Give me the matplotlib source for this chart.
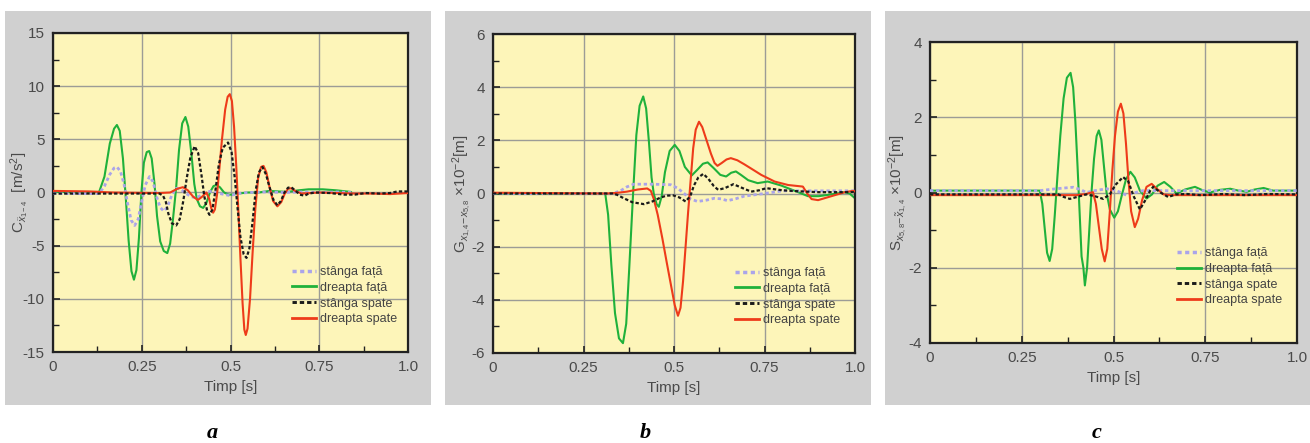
import matplotlib
matplotlib.use("Agg")
import matplotlib.pyplot as plt
from matplotlib.patches import Rectangle
from matplotlib.lines import Line2D

plt.rcParams['font.family'] = ['Liberation Sans', 'DejaVu Sans']
plt.rcParams['mathtext.fontset'] = 'custom'
plt.rcParams['mathtext.rm'] = 'Liberation Sans'
plt.rcParams['mathtext.it'] = 'Liberation Sans:italic'
plt.rcParams['mathtext.bf'] = 'Liberation Sans:bold'

# ---------------- data: (a) acceleration C [m/s^2] ----------------
a_sf_t = [0, 0.13, 0.145, 0.16, 0.172, 0.18, 0.19, 0.2, 0.21, 0.22, 0.23, 0.24, 0.25, 0.26,
          0.272, 0.282, 0.292, 0.302, 0.312, 0.322, 0.335, 0.347, 0.36, 0.375, 0.39, 0.404,
          0.42, 0.435, 0.45, 0.47, 0.5, 0.52, 0.55, 0.6, 0.65, 0.7, 0.75, 0.8, 0.84]
a_sf_v = [-0.1, -0.1, 0.6, 1.7, 2.3, 2.4, 2.0, 0.8, -1.0, -2.6, -3.1, -2.5, -0.8, 0.7,
          1.5, 1.0, -0.4, -1.4, -1.75, -1.4, -0.2, 0.4, 0.3, -0.1, -0.4, -0.5,
          -0.2, 0.1, 0.1, -0.1, -0.3, -0.1, 0.0, 0.05, 0.0, 0.05, 0.0, 0.05, 0.0]

a_df_t = [0.0, 0.13, 0.145, 0.16, 0.172, 0.18, 0.188, 0.197, 0.205, 0.213, 0.221, 0.228, 0.235,
          0.242, 0.249, 0.256, 0.264, 0.271, 0.278, 0.286, 0.293, 0.302, 0.312, 0.322, 0.330,
          0.338, 0.347, 0.355, 0.364, 0.373, 0.381, 0.390, 0.398, 0.405, 0.414, 0.423, 0.432,
          0.442, 0.452, 0.46, 0.47, 0.482, 0.495, 0.505, 0.52, 0.55, 0.58, 0.61, 0.635, 0.66,
          0.69, 0.72, 0.76, 0.80, 0.84]
a_df_v = [0.05, 0.05, 1.5, 4.6, 6.0, 6.35, 5.8, 3.2, -0.5, -4.5, -7.4, -8.2, -7.3,
          -4.3, 0.0, 2.8, 3.8, 3.9, 3.2, 0.8, -2.2, -4.6, -5.5, -5.7, -4.8,
          -2.5, 0.5, 4.0, 6.5, 7.1, 6.2, 3.6, 0.8, -0.6, -1.3, -1.45, -1.0,
          0.0, 0.6, 0.7, 0.5, 0.0, -0.2, -0.2, -0.1, 0.0, 0.0, 0.15, 0.1, 0.05,
          0.2, 0.3, 0.3, 0.2, 0.05]

a_ss_t = [0, 0.3, 0.31, 0.318, 0.325, 0.335, 0.347, 0.357, 0.367, 0.377, 0.387, 0.399, 0.409,
          0.418, 0.426, 0.434, 0.441, 0.449, 0.458, 0.467, 0.478, 0.493, 0.503, 0.512, 0.52,
          0.528, 0.537, 0.545, 0.553, 0.562, 0.571, 0.58, 0.59, 0.6, 0.61, 0.621, 0.632,
          0.642, 0.652, 0.662, 0.671, 0.682, 0.695, 0.709, 0.72, 0.74, 0.78, 0.82, 0.85,
          0.88, 0.92, 0.95, 0.97, 1.0]
a_ss_v = [-0.1, -0.1, -0.3, -0.9, -2.0, -2.9, -3.1, -2.5, -0.8, 1.4, 3.3, 4.35, 3.7,
          1.7, -0.3, -1.7, -2.1, -1.6, 0.3, 2.6, 4.2, 4.7, 3.8, 1.4, -1.5,
          -4.2, -5.8, -6.15, -5.3, -2.8, 0.2, 1.9, 2.4, 1.7, 0.5, -0.7, -1.2,
          -0.8, 0.0, 0.45, 0.5, 0.2, -0.2, -0.3, -0.1, 0.0, -0.05, -0.2, -0.2,
          -0.05, -0.1, -0.05, 0.1, 0.1]

a_ds_t = [0, 0.1, 0.17, 0.3, 0.33, 0.35, 0.366, 0.38, 0.395, 0.408, 0.42, 0.432, 0.44, 0.446,
          0.451, 0.456, 0.462, 0.468, 0.476, 0.485, 0.492, 0.498, 0.504, 0.51, 0.516, 0.522,
          0.528, 0.534, 0.539, 0.543, 0.548, 0.555, 0.562, 0.57, 0.578, 0.586, 0.593, 0.601,
          0.61, 0.62, 0.632, 0.643, 0.653, 0.662, 0.671, 0.682, 0.7, 0.75, 0.8, 0.85, 0.9,
          0.95, 1.0]
a_ds_v = [0.15, 0.1, 0.0, -0.05, 0.0, 0.35, 0.5, 0.2, -0.4, -0.7, -0.4, 0.0, -0.6, -1.5,
          -1.9, -1.6, -0.2, 2.0, 5.0, 7.8, 9.0, 9.25, 8.6, 6.2, 2.6, -1.6,
          -6.2, -10.4, -12.9, -13.4, -12.8, -10.0, -5.8, -1.5, 1.4, 2.4, 2.5, 1.9,
          0.5, -0.8, -1.3, -0.9, -0.1, 0.35, 0.4, 0.15, -0.1, 0.0, -0.05, -0.1, -0.1,
          -0.15, -0.05]

# ---------------- data: (b) gap G x10^-2 [m] ----------------
b_sf_t = [0, 0.33, 0.352, 0.37, 0.389, 0.44, 0.491, 0.51, 0.528, 0.545, 0.565, 0.59, 0.611,
          0.63, 0.648, 0.67, 0.694, 0.75, 0.8, 0.9, 1.0]
b_sf_v = [0.0, 0.0, 0.1, 0.25, 0.35, 0.35, 0.33, 0.2, 0.0, -0.2, -0.3, -0.25, -0.18,
          -0.2, -0.27, -0.2, -0.1, 0.0, 0.1, 0.1, 0.1]

b_df_t = [0, 0.31, 0.318, 0.327, 0.337, 0.348, 0.359, 0.368, 0.376, 0.387, 0.396, 0.405, 0.415,
          0.423, 0.431, 0.438, 0.444, 0.452, 0.458, 0.466, 0.475, 0.488, 0.502, 0.515, 0.53,
          0.549, 0.565, 0.58, 0.593, 0.61, 0.628, 0.644, 0.658, 0.671, 0.685, 0.705, 0.731,
          0.759, 0.796, 0.83, 0.852, 0.87, 0.9, 0.926, 0.95, 0.972, 0.985, 1.0]
b_df_v = [0, 0.0, -0.8, -2.7, -4.5, -5.45, -5.63, -4.9, -2.9, 0.0, 2.2, 3.3, 3.65,
          3.2, 1.9, 0.6, 0.0, -0.4, -0.5, -0.1, 0.8, 1.6, 1.83, 1.6, 1.0,
          0.68, 0.9, 1.12, 1.17, 0.95, 0.7, 0.64, 0.78, 0.83, 0.7, 0.5, 0.39,
          0.45, 0.3, 0.12, 0.0, -0.1, -0.1, -0.05, 0.0, 0.05, 0.0, -0.18]

b_ss_t = [0, 0.33, 0.343, 0.36, 0.385, 0.417, 0.44, 0.463, 0.48, 0.498, 0.515, 0.532, 0.545,
          0.555, 0.567, 0.581, 0.595, 0.61, 0.622, 0.64, 0.664, 0.69, 0.713, 0.735, 0.755,
          0.8, 0.85, 0.9, 1.0]
b_ss_v = [0.0, 0.0, -0.05, -0.17, -0.33, -0.4, -0.3, -0.15, -0.08, -0.07, -0.15, -0.3, -0.1,
          0.3, 0.6, 0.74, 0.55, 0.28, 0.14, 0.2, 0.35, 0.2, 0.07, 0.12, 0.2,
          0.12, 0.08, 0.05, 0.05]

b_ds_t = [0, 0.31, 0.34, 0.37, 0.4, 0.426, 0.436, 0.444, 0.455, 0.468, 0.48, 0.491, 0.502,
          0.511, 0.518, 0.525, 0.532, 0.539, 0.546, 0.553, 0.56, 0.569, 0.578, 0.59, 0.602,
          0.612, 0.62, 0.632, 0.645, 0.657, 0.675, 0.694, 0.72, 0.741, 0.778, 0.815, 0.856,
          0.868, 0.88, 0.898, 0.935, 0.972, 0.995, 1.0]
b_ds_v = [0.03, 0.0, 0.02, 0.07, 0.15, 0.19, 0.1, -0.2, -0.8, -1.7, -2.6, -3.4, -4.2,
          -4.6, -4.3, -3.3, -2.0, -0.7, 0.5, 1.7, 2.4, 2.7, 2.5, 2.0, 1.5,
          1.15, 1.04, 1.15, 1.28, 1.33, 1.25, 1.1, 0.88, 0.7, 0.45, 0.32, 0.26,
          0.0, -0.21, -0.25, -0.1, 0.05, 0.1, 0.08]

# ---------------- data: (c) S x10^-2 [m] ----------------
c_sf_t = [0, 0.3, 0.344, 0.39, 0.41, 0.426, 0.45, 0.481, 0.508, 0.535, 0.56, 0.58, 1.0]
c_sf_v = [0.05, 0.05, 0.1, 0.14, 0.08, 0.0, 0.05, 0.1, 0.05, -0.07, 0.0, 0.05, 0.05]

c_df_t = [0, 0.299, 0.306, 0.313, 0.319, 0.326, 0.333, 0.34, 0.347, 0.355, 0.364, 0.373, 0.383,
          0.39, 0.396, 0.402, 0.408, 0.413, 0.418, 0.422, 0.428, 0.434, 0.44, 0.447, 0.454,
          0.46, 0.467, 0.474, 0.481, 0.49, 0.502, 0.512, 0.522, 0.534, 0.546, 0.558, 0.572,
          0.59, 0.605, 0.62, 0.638, 0.655, 0.672, 0.695, 0.722, 0.745, 0.763, 0.79, 0.818,
          0.84, 0.863, 0.885, 0.909, 0.935, 1.0]
c_df_v = [0.05, 0.05, -0.3, -1.0, -1.6, -1.82, -1.5, -0.6, 0.4, 1.5, 2.5, 3.05, 3.18,
          2.8, 1.9, 0.7, -0.6, -1.7, -2.0, -2.47, -2.0, -1.0, 0.0, 0.9, 1.5,
          1.65, 1.4, 0.7, 0.0, -0.45, -0.67, -0.5, -0.1, 0.35, 0.55, 0.4, 0.05,
          -0.16, -0.05, 0.18, 0.28, 0.15, -0.03, 0.08, 0.15, 0.05, 0.0, 0.07, 0.1,
          0.05, 0.02, 0.08, 0.12, 0.05, 0.05]

c_ss_t = [0, 0.35, 0.365, 0.381, 0.4, 0.426, 0.45, 0.472, 0.49, 0.505, 0.526, 0.54, 0.555,
          0.572, 0.587, 0.6, 0.608, 0.628, 0.649, 0.67, 0.7, 0.736, 0.8, 0.86, 0.92, 1.0]
c_ss_v = [-0.05, -0.05, -0.12, -0.17, -0.12, -0.05, -0.1, -0.17, -0.05, 0.2, 0.41, 0.3, -0.1,
          -0.45, -0.2, 0.05, 0.15, 0.0, -0.12, -0.05, -0.04, -0.07, -0.04, -0.07, -0.04, -0.05]

c_ds_t = [0, 0.4, 0.425, 0.444, 0.452, 0.46, 0.468, 0.476, 0.483, 0.49, 0.497, 0.504, 0.512,
          0.52, 0.527, 0.534, 0.541, 0.548, 0.558, 0.567, 0.578, 0.59, 0.604, 0.618, 0.636,
          0.654, 1.0]
c_ds_v = [-0.07, -0.07, -0.04, 0.01, -0.3, -0.9, -1.5, -1.83, -1.5, -0.5, 0.6, 1.5, 2.15,
          2.36, 2.1, 1.3, 0.3, -0.5, -0.92, -0.7, -0.2, 0.15, 0.23, 0.1, -0.05,
          -0.07, -0.07]

series_labels = ['stânga față', 'dreapta față', 'stânga spate', 'dreapta spate']
x_ticks = [0, 0.25, 0.5, 0.75, 1.0]
x_ticklabels = ['0', '0.25', '0.5', '0.75', '1.0']

panels = [
    dict(data=[(a_sf_t, a_sf_v), (a_df_t, a_df_v), (a_ss_t, a_ss_v), (a_ds_t, a_ds_v)],
         ylim=(-15, 15), yticks=[-15, -10, -5, 0, 5, 10, 15], ystep=2.5,
         ylabel=r'C$_{\ddot{x}_{1-4}}$  [m/s$^{2}$]', caption='a'),
    dict(data=[(b_sf_t, b_sf_v), (b_df_t, b_df_v), (b_ss_t, b_ss_v), (b_ds_t, b_ds_v)],
         ylim=(-6, 6), yticks=[-6, -4, -2, 0, 2, 4, 6], ystep=1,
         ylabel=r'G$_{x_{1,4}\!-\!x_{5,8}}$ ×10$^{-2}$[m]', caption='b'),
    dict(data=[(c_sf_t, c_sf_v), (c_df_t, c_df_v), (c_ss_t, c_ss_v), (c_ds_t, c_ds_v)],
         ylim=(-4, 4), yticks=[-4, -2, 0, 2, 4], ystep=1,
         ylabel=r'S$_{x_{5,8}\!-\!\tilde{x}_{1,4}}$ ×10$^{-2}$[m]', caption='c'),
]

# pixel layout helpers
W, H = 1310, 443
frames = [(5, 431), (445, 871), (885, 1310)]          # grey panel x-extent
axes_px = [(53, 408, 33, 352), (493, 855, 34, 353), (930, 1297, 42, 343)]
legend_anchor = [(0.66, 0.285), (0.655, 0.285), (0.66, 0.335)]
ylabel_x = [20, 462, 898]
caption_x = [212, 645, 1097]

styles = [
    dict(color='#aaa4ea', lw=2.0, ls=(0, (1.2, 1.0))),
    dict(color='#1fb13b', lw=1.5, ls='-'),
    dict(color='#1a1a1a', lw=1.6, ls=(0, (1.5, 1.0))),
    dict(color='#ee3b1a', lw=1.5, ls='-'),
]

fig = plt.figure(figsize=(W / 100, H / 100), dpi=100)
fig.patch.set_facecolor('white')

for i, p in enumerate(panels):
    x0, x1 = frames[i]
    fig.patches.append(Rectangle((x0 / W, 1 - 405 / H), (x1 - x0) / W, (405 - 11) / H,
                                 transform=fig.transFigure, facecolor='#d0d0d0',
                                 edgecolor='none', zorder=-10))
    l, r, t, b = axes_px[i]
    ax = fig.add_axes([l / W, 1 - b / H, (r - l) / W, (b - t) / H])
    ax.set_facecolor('#fdf5b9')
    ax.set_xlim(0, 1.0)
    ax.set_ylim(*p['ylim'])
    ax.set_xticks(x_ticks)
    ax.set_xticklabels(x_ticklabels)
    ax.set_yticks(p['yticks'])
    ax.set_yticklabels([str(v) for v in p['yticks']])
    ax.set_xticks([k * 0.125 for k in range(9)], minor=True)
    y0, y1 = p['ylim']
    n = int(round((y1 - y0) / p['ystep']))
    ax.set_yticks([y0 + k * p['ystep'] for k in range(n + 1)], minor=True)
    ax.tick_params(which='both', direction='in', colors='#222222', labelcolor='#4a4a4a',
                   labelsize=11, pad=6)
    ax.tick_params(which='major', length=5, width=1.2)
    ax.tick_params(which='minor', length=4, width=1.0)
    ax.tick_params(axis='y', which='both', left=True, right=False)
    ax.tick_params(axis='x', which='both', bottom=True, top=False)
    ax.grid(True, which='major', color='#9c9c96', lw=1.0)
    for s in ax.spines.values():
        s.set_linewidth(1.6)
        s.set_color('#222222')
    handles = []
    for (tt, vv), st, lab in zip(p['data'], styles, series_labels):
        h, = ax.plot(tt, vv, color=st['color'], lw=st['lw'], ls=st['ls'], label=lab,
                     solid_capstyle='round', dash_capstyle='butt')
        handles.append(h)
    # draw order: lavender, black dashed and red over green
    handles[0].set_zorder(3)
    handles[1].set_zorder(2.5)
    handles[2].set_zorder(3.2)
    handles[3].set_zorder(3.1)
    leg_handles = [Line2D([], [], color=st['color'], lw=st['lw'] + 0.5, ls=st['ls'])
                   for st in styles]
    ax.legend(leg_handles, series_labels, loc='upper left', bbox_to_anchor=legend_anchor[i],
              frameon=False, fontsize=9, labelcolor='#444444', handlelength=1.9,
              handletextpad=0.35, labelspacing=0.3, borderaxespad=0)
    ax.set_xlabel('Timp [s]', fontsize=11, color='#4a4a4a', labelpad=4)
    ax.set_ylabel(p['ylabel'], fontsize=11, color='#4a4a4a')
    ax.yaxis.set_label_coords((ylabel_x[i] - l) / (r - l), 0.5)
    ax.yaxis.label.set_va('center')
    fig.text(caption_x[i] / W, 1 - 433 / H, p['caption'], ha='center', va='center',
             fontsize=16, fontweight='bold', fontstyle='italic', family='Liberation Serif')

fig.savefig('out.png', dpi=100, facecolor='white')
